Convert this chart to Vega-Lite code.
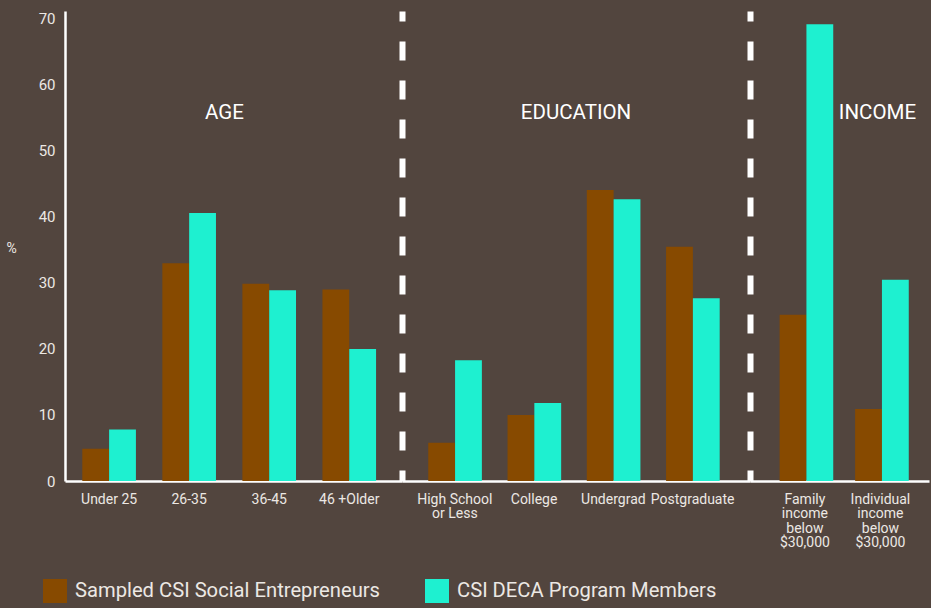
{
  "$schema": "https://vega.github.io/schema/vega-lite/v6.json",
  "background": "#52453e",
  "padding": {"left": 5, "top": 11, "right": 2, "bottom": 5},
  "bounds": "flush",
  "spacing": 0,
  "config": {
    "view": {"stroke": null},
    "font": "Roboto",
    "axis": {"grid": false, "ticks": false, "labelColor": "#ece8e4", "labelFont": "Roboto", "domainColor": "#ffffff", "titleColor": "#ece8e4", "titleFont": "Roboto"},
    "legend": {"orient": "none", "legendX": -22, "legendY": 568, "direction": "horizontal", "title": null, "symbolType": "square", "symbolSize": 576, "symbolStrokeWidth": 0, "labelFontSize": 20.2, "labelColor": "#ece8e4", "labelFont": "Roboto", "columnPadding": 44, "labelOffset": 8, "labelLimit": 0}
  },
  "datasets": {
    "bars": [
      {"group": "AGE", "category": "Under 25", "series": "Sampled CSI Social Entrepreneurs", "value": 4.9},
      {"group": "AGE", "category": "Under 25", "series": "CSI DECA Program Members", "value": 7.8},
      {"group": "AGE", "category": "26-35", "series": "Sampled CSI Social Entrepreneurs", "value": 33.0},
      {"group": "AGE", "category": "26-35", "series": "CSI DECA Program Members", "value": 40.6},
      {"group": "AGE", "category": "36-45", "series": "Sampled CSI Social Entrepreneurs", "value": 29.9},
      {"group": "AGE", "category": "36-45", "series": "CSI DECA Program Members", "value": 28.9},
      {"group": "AGE", "category": "46 +Older", "series": "Sampled CSI Social Entrepreneurs", "value": 29.0},
      {"group": "AGE", "category": "46 +Older", "series": "CSI DECA Program Members", "value": 20.0},
      {"group": "EDUCATION", "category": "High School|or Less", "series": "Sampled CSI Social Entrepreneurs", "value": 5.8},
      {"group": "EDUCATION", "category": "High School|or Less", "series": "CSI DECA Program Members", "value": 18.3},
      {"group": "EDUCATION", "category": "College", "series": "Sampled CSI Social Entrepreneurs", "value": 10.0},
      {"group": "EDUCATION", "category": "College", "series": "CSI DECA Program Members", "value": 11.8},
      {"group": "EDUCATION", "category": "Undergrad", "series": "Sampled CSI Social Entrepreneurs", "value": 44.1},
      {"group": "EDUCATION", "category": "Undergrad", "series": "CSI DECA Program Members", "value": 42.7},
      {"group": "EDUCATION", "category": "Postgraduate", "series": "Sampled CSI Social Entrepreneurs", "value": 35.5},
      {"group": "EDUCATION", "category": "Postgraduate", "series": "CSI DECA Program Members", "value": 27.7},
      {"group": "INCOME", "category": "Family|income|below|$30,000", "series": "Sampled CSI Social Entrepreneurs", "value": 25.2},
      {"group": "INCOME", "category": "Family|income|below|$30,000", "series": "CSI DECA Program Members", "value": 69.2},
      {"group": "INCOME", "category": "Individual|income|below|$30,000", "series": "Sampled CSI Social Entrepreneurs", "value": 10.9},
      {"group": "INCOME", "category": "Individual|income|below|$30,000", "series": "CSI DECA Program Members", "value": 30.5}
    ]
  },
  "hconcat": [
    {
      "width": 337,
      "height": 470,
      "layer": [
        {
          "data": {"name": "bars"},
          "transform": [{"filter": "datum.group === 'AGE'"}],
          "mark": {"type": "bar"},
          "encoding": {
            "x": {"field": "category", "type": "nominal", "scale": {"domain": ["Under 25", "26-35", "36-45", "46 +Older"], "paddingInner": 0.33, "paddingOuter": 0.27, "align": 0.4},
              "axis": {"title": null, "labelAngle": 0, "labelExpr": "split(datum.label, '|')", "labelFontSize": 14, "labelPadding": 11, "labelBaseline": "top", "labelLineHeight": 14.5, "domainWidth": 2.5, "labelLimit": 0}},
            "xOffset": {"field": "series", "type": "nominal", "scale": {"domain": ["Sampled CSI Social Entrepreneurs", "CSI DECA Program Members"], "paddingInner": 0, "paddingOuter": 0}},
            "y": {"field": "value", "type": "quantitative", "scale": {"domain": [0, 71.2], "nice": false},
              "axis": {"title": "%", "titleAngle": 0, "titleAlign": "center", "titleBaseline": "middle", "titleX": -54, "titleY": 237, "titleFontSize": 14, "titleFontWeight": "normal", "values": [0, 10, 20, 30, 40, 50, 60, 70], "labelFontSize": 15, "labelPadding": 10, "domainWidth": 2.5}},
            "color": {"field": "series", "type": "nominal", "scale": {"domain": ["Sampled CSI Social Entrepreneurs", "CSI DECA Program Members"], "range": ["#874a00", "#1ef0d0"]}}
          }
        },
        {
          "data": {"values": [{"label": "AGE"}]},
          "mark": {"type": "text", "fontSize": 20.5, "color": "#ffffff", "dx": -9, "baseline": "middle", "font": "Roboto"},
          "encoding": {"text": {"field": "label", "type": "nominal"}, "y": {"datum": 55.7}}
        }
      ]
    },
    {
      "width": 348,
      "height": 470,
      "layer": [
        {
          "data": {"name": "bars"},
          "transform": [{"filter": "datum.group === 'EDUCATION'"}],
          "mark": {"type": "bar"},
          "encoding": {
            "x": {"field": "category", "type": "nominal", "scale": {"domain": ["High School|or Less", "College", "Undergrad", "Postgraduate"], "paddingInner": 0.33, "paddingOuter": 0.36, "align": 0.46},
              "axis": {"title": null, "labelAngle": 0, "labelExpr": "split(datum.label, '|')", "labelFontSize": 14, "labelPadding": 11, "labelBaseline": "top", "labelLineHeight": 14.5, "domainWidth": 2.5, "labelLimit": 0}},
            "xOffset": {"field": "series", "type": "nominal", "scale": {"domain": ["Sampled CSI Social Entrepreneurs", "CSI DECA Program Members"], "paddingInner": 0, "paddingOuter": 0}},
            "y": {"field": "value", "type": "quantitative", "scale": {"domain": [0, 71.2], "nice": false},
              "axis": {"title": null, "labels": false, "values": [], "domainWidth": 6, "domainDash": [19, 20], "domainDashOffset": 8}},
            "color": {"field": "series", "type": "nominal", "scale": {"domain": ["Sampled CSI Social Entrepreneurs", "CSI DECA Program Members"], "range": ["#874a00", "#1ef0d0"]}}
          }
        },
        {
          "data": {"values": [{"label": "EDUCATION"}]},
          "mark": {"type": "text", "fontSize": 20.5, "color": "#ffffff", "baseline": "middle", "font": "Roboto"},
          "encoding": {"text": {"field": "label", "type": "nominal"}, "y": {"datum": 55.7}}
        }
      ]
    },
    {
      "width": 179,
      "height": 470,
      "layer": [
        {
          "data": {"name": "bars"},
          "transform": [{"filter": "datum.group === 'INCOME'"}],
          "mark": {"type": "bar"},
          "encoding": {
            "x": {"field": "category", "type": "nominal", "scale": {"domain": ["Family|income|below|$30,000", "Individual|income|below|$30,000"], "paddingInner": 0.33, "paddingOuter": 0.35, "align": 0.56},
              "axis": {"title": null, "labelAngle": 0, "labelExpr": "split(datum.label, '|')", "labelFontSize": 14, "labelPadding": 11, "labelBaseline": "top", "labelLineHeight": 14.5, "domainWidth": 2.5, "labelLimit": 0}},
            "xOffset": {"field": "series", "type": "nominal", "scale": {"domain": ["Sampled CSI Social Entrepreneurs", "CSI DECA Program Members"], "paddingInner": 0, "paddingOuter": 0}},
            "y": {"field": "value", "type": "quantitative", "scale": {"domain": [0, 71.2], "nice": false},
              "axis": {"title": null, "labels": false, "values": [], "domainWidth": 6, "domainDash": [19, 20], "domainDashOffset": 8}},
            "color": {"field": "series", "type": "nominal", "scale": {"domain": ["Sampled CSI Social Entrepreneurs", "CSI DECA Program Members"], "range": ["#874a00", "#1ef0d0"]}}
          }
        },
        {
          "data": {"values": [{"label": "INCOME"}]},
          "mark": {"type": "text", "fontSize": 20.5, "color": "#ffffff", "baseline": "middle", "font": "Roboto", "dx": -3},
          "encoding": {"text": {"field": "label", "type": "nominal"}, "x": {"datum": "Individual|income|below|$30,000", "type": "nominal"}, "y": {"datum": 55.7}}
        }
      ]
    }
  ],
  "resolve": {"scale": {"color": "shared"}}
}
